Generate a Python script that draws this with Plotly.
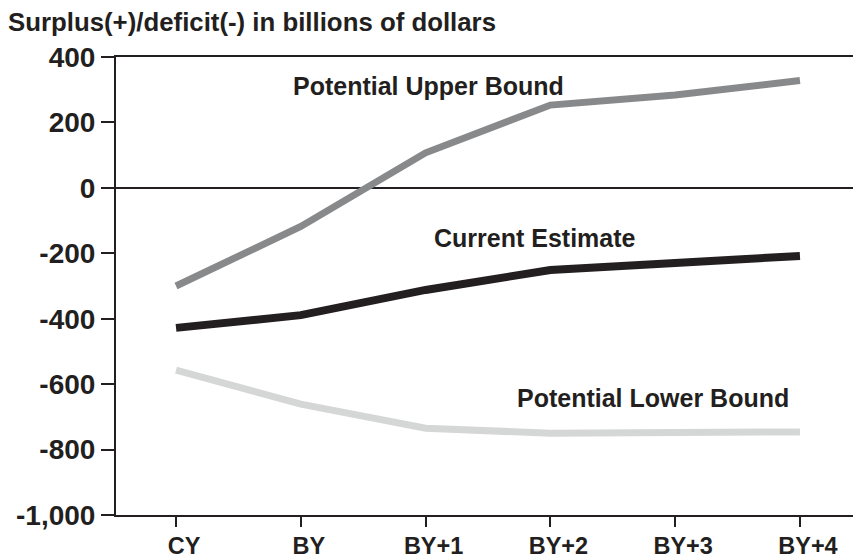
import plotly.graph_objects as go

categories = ["CY", "BY", "BY+1", "BY+2", "BY+3", "BY+4"]
upper_bound = [-300, -118, 107, 253, 284, 328]
current_estimate = [-428, -389, -312, -251, -230, -208]
lower_bound = [-557, -661, -735, -750, -748, -746]
y_ticks = [400, 200, 0, -200, -400, -600, -800, -1000]
y_tick_labels = ["400", "200", "0", "-200", "-400", "-600", "-800", "-1,000"]

FONT = "Liberation Sans, Arial, Helvetica, sans-serif"
INK = "#231f20"

xi = list(range(len(categories)))

fig = go.Figure()
fig.add_trace(go.Scatter(x=xi, y=lower_bound, mode="lines",
                         line=dict(color="#d5d7d6", width=7), name="Potential Lower Bound"))
fig.add_trace(go.Scatter(x=xi, y=upper_bound, mode="lines",
                         line=dict(color="#88898b", width=7), name="Potential Upper Bound"))
fig.add_trace(go.Scatter(x=xi, y=current_estimate, mode="lines",
                         line=dict(color=INK, width=8), name="Current Estimate"))

labels = [
    ("Potential Upper Bound", 2.02, 311),
    ("Current Estimate", 2.877, -153),
    ("Potential Lower Bound", 3.82, -642),
]
for text, x, y in labels:
    fig.add_annotation(x=x, y=y, text="<b>%s</b>" % text, showarrow=False,
                       xanchor="center", yanchor="middle",
                       font=dict(family=FONT, size=25, color=INK))

fig.update_layout(
    width=853, height=559,
    margin=dict(l=116, r=0, t=57, b=44, autoexpand=False),
    paper_bgcolor="white", plot_bgcolor="white",
    showlegend=False,
    title=dict(text="<b>Surplus(+)/deficit(-) in billions of dollars</b>",
               x=8 / 853, xanchor="left", xref="container",
               y=1 - 22 / 559, yanchor="middle", yref="container",
               pad=dict(l=0, r=0, t=0, b=0), automargin=False,
               font=dict(family=FONT, size=25.8, color=INK)),
)
fig.update_xaxes(
    range=[-0.481, 5.425], tickvals=xi,
    ticktext=["<b>%s</b>" % c for c in categories],
    showline=True, linecolor=INK, linewidth=2, mirror=True,
    ticks="outside", ticklen=10, tickwidth=1.5, tickcolor=INK,
    showgrid=False, zeroline=False, ticklabelshift=8, ticklabelstandoff=-1,
    automargin=False,
    tickfont=dict(family=FONT, size=23.5, color=INK),
)
fig.update_yaxes(
    range=[-1000, 400], tickvals=y_ticks,
    ticktext=["<b>%s</b>" % t for t in y_tick_labels],
    showline=True, linecolor=INK, linewidth=2,
    ticks="outside", ticklen=13, tickwidth=2, tickcolor=INK,
    showgrid=False, zeroline=True, zerolinecolor=INK, zerolinewidth=2,
    automargin=False,
    tickfont=dict(family=FONT, size=28, color=INK),
)

fig.write_html("out.html", config={"displayModeBar": False},
               post_script="document.body.style.margin='0';")
